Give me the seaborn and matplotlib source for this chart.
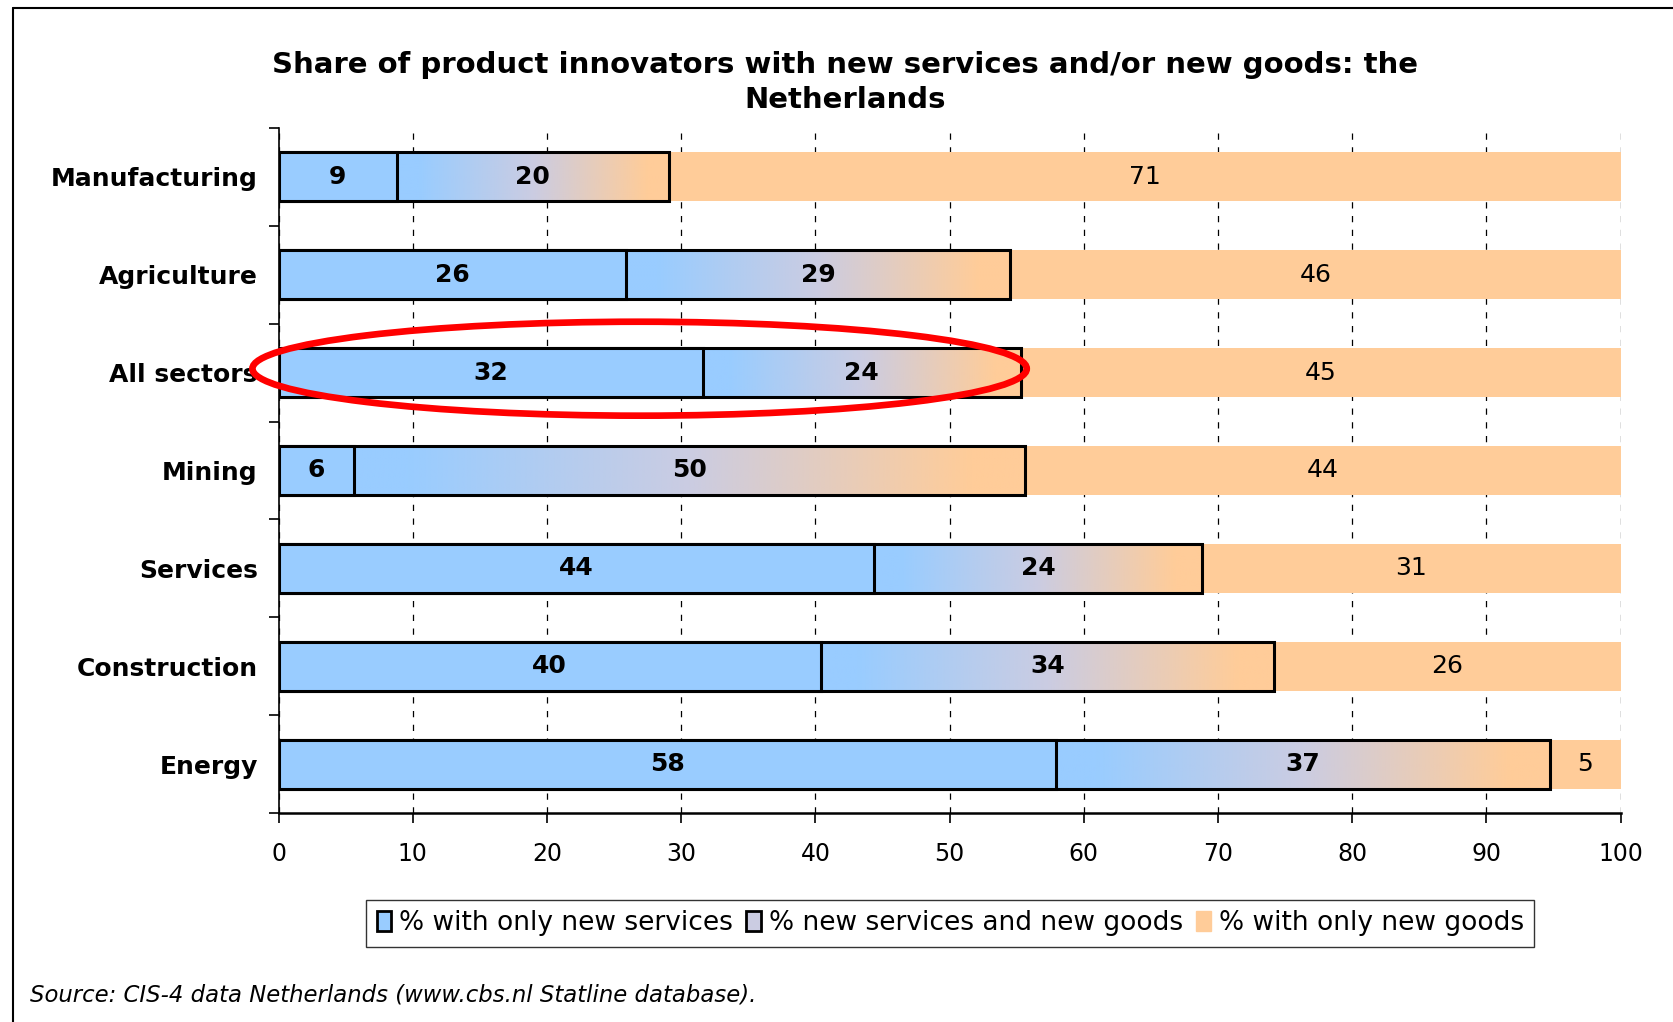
import numpy as np
import pandas as pd
import matplotlib
matplotlib.use("Agg")
import matplotlib.pyplot as plt
import seaborn as sns
from matplotlib.patches import Ellipse, Patch
from matplotlib.colors import to_rgb
from matplotlib.lines import Line2D

sectors = ["Manufacturing", "Agriculture", "All sectors", "Mining",
           "Services", "Construction", "Energy"]
only_services = [8.8, 25.9, 31.6, 5.6, 44.4, 40.4, 57.9]
services_and_goods = [20.3, 28.6, 23.7, 50.0, 24.4, 33.8, 36.8]
only_goods = [70.9, 45.6, 44.7, 44.4, 31.2, 25.8, 5.3]
x_ticks = [0, 10, 20, 30, 40, 50, 60, 70, 80, 90, 100]

legend_labels = ["% with only new services", "% new services and new goods",
                 "% with only new goods"]
title = "Share of product innovators with new services and/or new goods: the\nNetherlands"
source = "Source: CIS-4 data Netherlands (www.cbs.nl Statline database)."

BLUE = "#99CCFF"
MID = "#CBCCE2"
PEACH = "#FFCC99"

df = pd.DataFrame({"sector": sectors, "a": only_services,
                   "b": services_and_goods, "c": only_goods})
df["ab"] = df.a + df.b
df["abc"] = df.ab + df.c

sns.set_style("white")
plt.rcParams["font.family"] = ["DejaVu Sans"]
plt.rcParams["text.color"] = "black"
plt.rcParams["xtick.color"] = "black"
plt.rcParams["ytick.color"] = "black"
plt.rcParams["axes.labelcolor"] = "black"

fig = plt.figure(figsize=(16.73, 10.22), dpi=100)
ax = fig.add_axes([0.1665, 0.2045, 0.8022, 0.6703])

# layered bars: total (peach), then both (gradient), then services only (blue)
sns.barplot(data=df, x="abc", y="sector", order=sectors, color=PEACH,
            saturation=1, width=0.5, errorbar=None, linewidth=0, ax=ax)
n_peach = len(ax.patches)
sns.barplot(data=df, x="ab", y="sector", order=sectors, color="white",
            saturation=1, width=0.5, errorbar=None, edgecolor="black",
            linewidth=2.2, ax=ax)
mid_patches = ax.patches[n_peach:]
n_mid = len(ax.patches)
sns.barplot(data=df, x="a", y="sector", order=sectors, color=BLUE,
            saturation=1, width=0.5, errorbar=None, edgecolor="black",
            linewidth=2.2, ax=ax)

# gradient fill for the middle segment: blue -> lavender -> peach
stops = np.array([to_rgb(BLUE), to_rgb(MID), to_rgb(PEACH)])
u = np.clip((np.linspace(0, 1, 256) - 0.08) / 0.84, 0, 1)
grad = np.stack([np.interp(u, [0, 0.5, 1], stops[:, k]) for k in range(3)],
                axis=-1)[None, :, :]
for i, p in enumerate(mid_patches):
    p.set_facecolor("none")
    p.set_zorder(3)
    y0 = p.get_y()
    h = p.get_height()
    ax.imshow(grad, extent=[df.a[i], df.ab[i], y0 + h, y0], aspect="auto",
              zorder=2, interpolation="bilinear")
for p in ax.patches[n_mid:]:
    p.set_zorder(4)

ax.set_xlim(0, 100)
ax.set_ylim(6.5, -0.5)

# value labels
for i in range(len(sectors)):
    ax.text(df.a[i] / 2, i, f"{df.a[i]:.0f}", ha="center", va="center",
            fontsize=18, fontweight="bold", zorder=6)
    ax.text(df.a[i] + df.b[i] / 2, i, f"{df.b[i]:.0f}", ha="center",
            va="center", fontsize=18, fontweight="bold", zorder=6)
    ax.text(df.ab[i] + (100 - df.ab[i]) / 2, i, f"{df.c[i]:.0f}",
            ha="center", va="center", fontsize=18, zorder=6)

# axes styling
ax.set_xlabel("")
ax.set_ylabel("")
ax.set_xticks(x_ticks)
ax.set_xticklabels([str(v) for v in x_ticks], fontsize=17)
ax.set_yticks(range(len(sectors)))
ax.set_yticklabels(sectors, fontsize=18, fontweight="bold")
ax.set_yticks(np.arange(-0.5, len(sectors)), minor=True)
ax.tick_params(axis="y", which="major", length=0, pad=15)
ax.tick_params(axis="y", which="minor", length=7, width=1.2, color="black",
               direction="out", left=True)
ax.tick_params(axis="x", length=7, width=1.2, color="black", direction="out",
               bottom=True, pad=14)
ax.xaxis.grid(True, color="black", linestyle=(0, (5, 6)), linewidth=0.9)
ax.yaxis.grid(False)
ax.set_axisbelow(True)
for s in ["top", "right"]:
    ax.spines[s].set_visible(False)
ax.spines["left"].set_color("black")
ax.spines["left"].set_linewidth(1.2)
ax.spines["bottom"].set_color("black")
ax.spines["bottom"].set_linewidth(1.8)

# highlight ellipse around "All sectors"
ax.add_patch(Ellipse((26.9, 1.96), width=57.7, height=0.96, fill=False,
                     edgecolor="red", linewidth=4.8, clip_on=False, zorder=10))

fig.text(0.505, 0.919, title, ha="center", va="center", fontsize=21,
         fontweight="bold", linespacing=1.3)

handles = [Patch(facecolor=BLUE, edgecolor="black", linewidth=2),
           Patch(facecolor=MID, edgecolor="black", linewidth=2),
           Patch(facecolor=PEACH, edgecolor=PEACH)]
leg = fig.legend(handles, legend_labels, loc="center",
                 bbox_to_anchor=(0.568, 0.0965), ncol=3, fontsize=19,
                 frameon=True, fancybox=False, edgecolor="black",
                 handlelength=0.55, handleheight=0.8, handletextpad=0.3,
                 columnspacing=0.5, borderpad=0.4, borderaxespad=0)
leg.get_frame().set_linewidth(1.0)

fig.text(0.018, 1 - 995 / 1022, source, fontsize=16.4, style="italic",
         va="center", ha="left")

# outer frame lines
fig.add_artist(Line2D([13 / 1673, 1], [1 - 8 / 1022, 1 - 8 / 1022],
                      color="black", linewidth=1.5))
fig.add_artist(Line2D([13 / 1673, 13 / 1673], [0, 1 - 8 / 1022],
                      color="black", linewidth=1.5))

fig.savefig("out.png", dpi=100)
